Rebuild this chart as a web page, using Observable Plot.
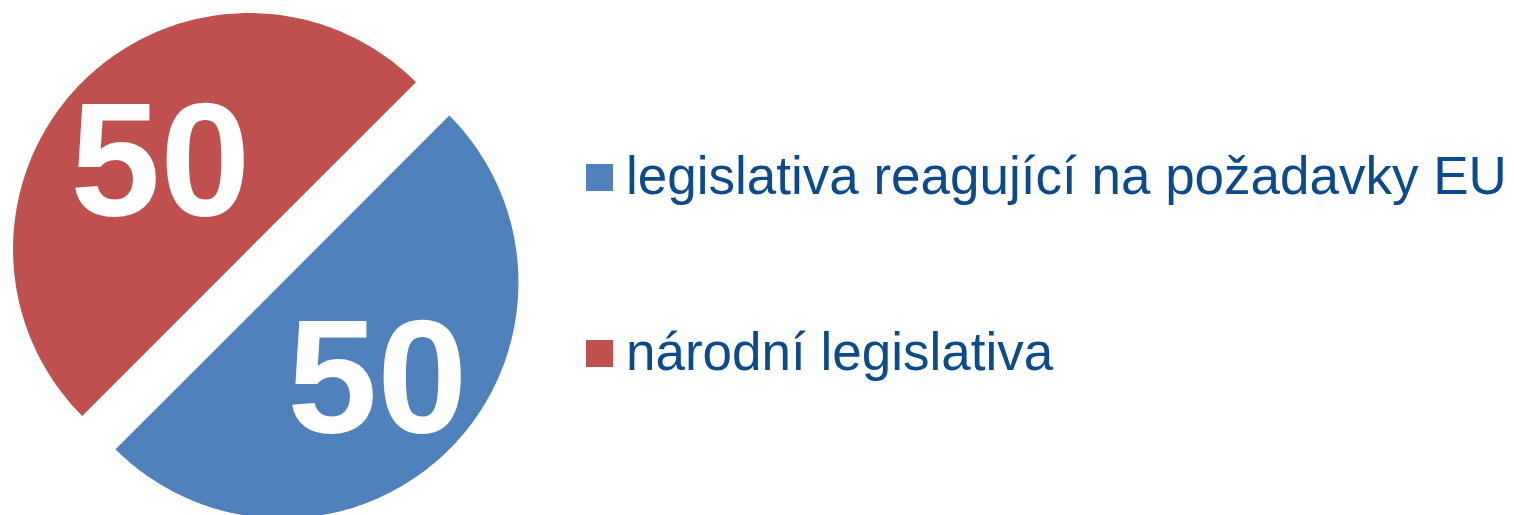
<!DOCTYPE html>
<html><head><meta charset="utf-8">
<script src="https://cdn.jsdelivr.net/npm/d3@7"></script>
<script src="https://cdn.jsdelivr.net/npm/@observablehq/plot@0.6"></script>
<style>
html,body{margin:0;padding:0;background:#fff;}
#chart{position:relative;width:1514px;height:515px;overflow:hidden;}
#chart svg{display:block;}
#legend{position:absolute;left:586px;top:149px;display:flex;flex-direction:column;gap:123px;font-family:"Liberation Sans",Arial,sans-serif;font-size:53px;line-height:53px;color:#0b4a8c;}
.item{display:flex;align-items:center;white-space:nowrap;}
.sw{width:27px;height:27px;margin-right:13px;position:relative;top:2px;flex:none;}
</style></head><body>
<div id="chart"></div>
<script>
// Data
const categories = ["legislativa reagující na požadavky EU", "národní legislativa"];
const values = [50, 50];
const labels = ["50", "50"];
const colors = ["#4f81bd", "#c0504d"];
const legendOrder = ["legislativa reagující na požadavky EU", "národní legislativa"];

// Layout
const W = 531, H = 515, R = 236, cx = 265.25, cy = 265.25;
const explode = 0.1, labelR = 0.55, steps = 180;

const pie = d3.pie().sort(null).startAngle(Math.PI / 4).endAngle(Math.PI / 4 + 2 * Math.PI);
const arcs = pie(values);
const polys = [];
const labelPts = [];
arcs.forEach((a, i) => {
  const mid = (a.startAngle + a.endAngle) / 2;
  const ox = explode * Math.sin(mid), oy = explode * Math.cos(mid);
  polys.push({cat: categories[i], x: ox, y: oy});
  for (let k = 0; k <= steps; k++) {
    const t = a.startAngle + (a.endAngle - a.startAngle) * k / steps;
    polys.push({cat: categories[i], x: ox + Math.sin(t), y: oy + Math.cos(t)});
  }
  labelPts.push({cat: categories[i], label: labels[i], x: ox + labelR * Math.sin(mid), y: oy + labelR * Math.cos(mid)});
});

const chart = Plot.plot({
  width: W, height: H,
  margin: 0,
  x: {domain: [-cx / R, (W - cx) / R], axis: null},
  y: {domain: [-(H - cy) / R, cy / R], axis: null},
  color: {domain: categories, range: colors},
  style: {background: "white"},
  marks: [
    Plot.line(polys, {x: "x", y: "y", z: "cat", fill: "cat", stroke: "none", curve: "linear-closed"}),
    Plot.text(labelPts, {x: "x", y: "y", text: "label", dx: 3, dy: 6, fill: "white", fontSize: 162, fontWeight: "bold", fontFamily: "Liberation Sans, Arial, sans-serif"})
  ]
});
const root = document.getElementById("chart");
root.appendChild(chart);

const legend = document.createElement("div");
legend.id = "legend";
legendOrder.forEach(c => {
  const item = document.createElement("div");
  item.className = "item";
  const sw = document.createElement("span");
  sw.className = "sw";
  sw.style.background = colors[categories.indexOf(c)];
  const tx = document.createElement("span");
  tx.textContent = c;
  item.appendChild(sw);
  item.appendChild(tx);
  legend.appendChild(item);
});
root.appendChild(legend);
</script>
</body></html>
